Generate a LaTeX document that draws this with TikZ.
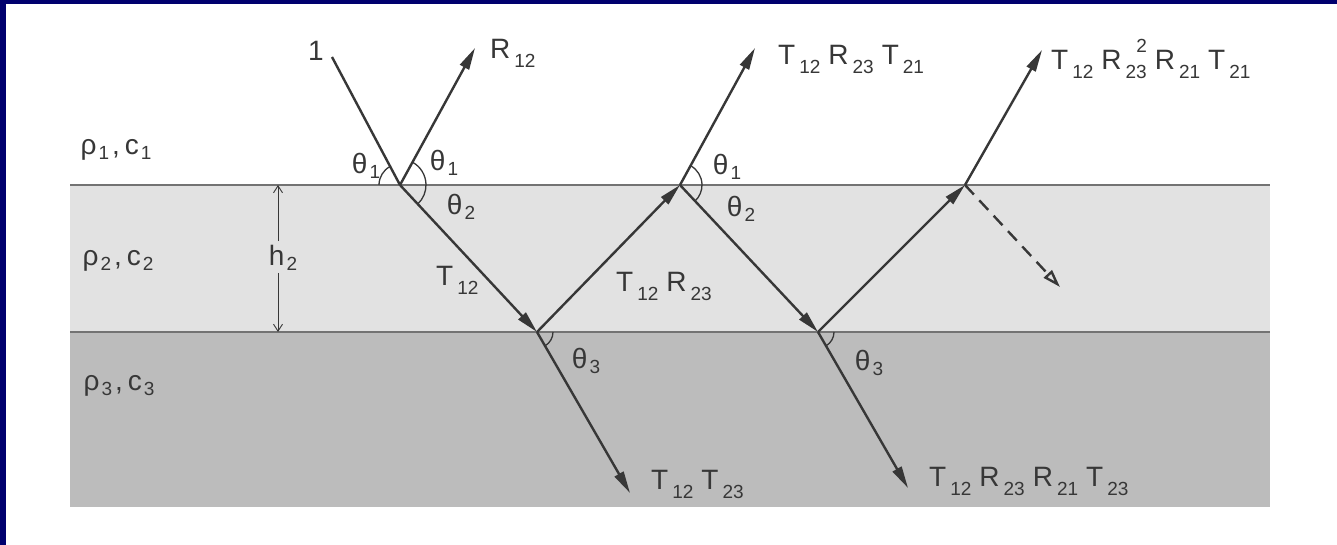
\documentclass[tikz,border=0pt]{standalone}
\usepackage{fontspec}
\setmainfont{Liberation Sans}
\usetikzlibrary{arrows.meta}
\definecolor{navy}{RGB}{0,0,110}
\definecolor{ink}{RGB}{55,55,55}
\definecolor{layertwo}{RGB}{226,226,226}
\definecolor{layerthree}{RGB}{188,188,188}
% subscript on a capital letter
\newcommand\sbs[1]{\kern4pt\raisebox{-9pt}{\fontsize{19pt}{19pt}\selectfont #1}}
% subscript on a small letter
\newcommand\sbl[1]{\kern2pt\raisebox{-5pt}{\fontsize{19pt}{19pt}\selectfont #1}}
\newcommand\gap{\hspace{8pt}}
\begin{document}
\begin{tikzpicture}[x=1pt,y=1pt,
  ray/.style={draw=ink, line width=2.4pt},
  rayarrow/.style={ray, -{Triangle[length=22pt,width=10pt]}},
  lab/.style={text=ink, font=\fontsize{28pt}{28pt}\selectfont, inner sep=0pt},
  ang/.style={draw=ink, line width=1.3pt},
  iface/.style={draw=black!55, line width=1.2pt},
  dim/.style={draw=ink, line width=0.9pt, -{Straight Barb[length=7pt,width=9pt]}}]
% background and frame
\useasboundingbox (0,0) rectangle (1337,-545);
\fill[white] (0,0) rectangle (1337,-545);
\fill[navy] (0,0) rectangle (1337,-4);
\fill[navy] (0,0) rectangle (6,-545);
% layers
\fill[layertwo] (70,-185) rectangle (1270,-332);
\fill[layerthree] (70,-332) rectangle (1270,-507);
\draw[iface] (70,-185) -- (1270,-185);
\draw[iface] (70,-332) -- (1270,-332);
% points
\coordinate (S) at (332,-57);
\coordinate (A) at (400,-185);
\coordinate (B) at (537,-332);
\coordinate (C) at (680,-185);
\coordinate (D) at (818,-332);
\coordinate (E) at (965,-185);
\coordinate (R1) at (475,-48);
\coordinate (R2) at (755,-48);
\coordinate (R3) at (1042,-50);
\coordinate (T1) at (630,-493);
\coordinate (T2) at (908,-488);
\coordinate (Q) at (1060,-287);
% rays
\draw[ray] (S) -- (A);
\draw[rayarrow] (A) -- (R1);
\draw[rayarrow] (A) -- (B);
\draw[rayarrow] (B) -- (T1);
\draw[rayarrow] (B) -- (C);
\draw[rayarrow] (C) -- (R2);
\draw[rayarrow] (C) -- (D);
\draw[rayarrow] (D) -- (T2);
\draw[rayarrow] (D) -- (E);
\draw[rayarrow] (E) -- (R3);
\draw[ray, dash pattern=on 13pt off 8pt, -{Triangle[open,length=18pt,width=11pt]}] (E) -- (Q);
% angle arcs
\draw[ang] ([shift={(180:21)}]A) arc[start angle=180, end angle=118, radius=21];
\draw[ang] ([shift={(61.6:26)}]A) arc[start angle=61.6, end angle=-47, radius=26];
\draw[ang] ([shift={(61.6:22)}]C) arc[start angle=61.6, end angle=-47, radius=22];
\draw[ang] ([shift={(0:16)}]B) arc[start angle=0, end angle=-60, radius=16];
\draw[ang] ([shift={(0:16)}]D) arc[start angle=0, end angle=-60, radius=16];
% thickness h2
\coordinate (Ht) at (278,-185);
\coordinate (Hb) at (278,-332);
\node[lab] (h2) at (283,-258) {h\sbl{2}};
\draw[dim] (h2.north -| Ht) ++(0,4) -- (Ht);
\draw[dim] (h2.south -| Hb) ++(0,-2) -- (Hb);
% medium labels
\node[lab] (m1) at (116,-150) {ρ\sbl{1}\kern3pt,\kern5pt c\sbl{1}};
\node[lab] (m2) at (118,-261) {ρ\sbl{2}\kern3pt,\kern5pt c\sbl{2}};
\node[lab] (m3) at (119,-386) {ρ\sbl{3}\kern3pt,\kern5pt c\sbl{3}};
% ray labels
\node[lab, anchor=base west] (l1) at (308,-61) {1};
\node[lab, anchor=base west] (lr12) at (490,-59) {R\sbs{12}};
\node[lab, anchor=base west] (lt12) at (436,-285) {T\sbs{12}};
\node[lab, anchor=base west] (ltr) at (616,-291) {T\sbs{12}\gap R\sbs{23}};
\node[lab, anchor=base west] (ltrt) at (778,-65) {T\sbs{12}\gap R\sbs{23}\gap T\sbs{21}};
\node[lab, anchor=base west] (lfar) at (1051,-70) {T\sbs{12}\gap R\sbs{23}\kern-10.5pt\raisebox{17pt}{\fontsize{19pt}{19pt}\selectfont 2}\kern0pt\gap R\sbs{21}\gap T\sbs{21}};
\node[lab, anchor=base west] (ltt) at (651,-489) {T\sbs{12}\gap T\sbs{23}};
\node[lab, anchor=base west] (ltrrt) at (929,-486) {T\sbs{12}\gap R\sbs{23}\gap R\sbs{21}\gap T\sbs{23}};
% angle labels
\node[lab] (a1) at (366,-166) {θ\sbl{1}};
\node[lab] (a2) at (444,-163) {θ\sbl{1}};
\node[lab] (a3) at (461,-207) {θ\sbl{2}};
\node[lab] (a4) at (727,-167) {θ\sbl{1}};
\node[lab] (a5) at (741,-209) {θ\sbl{2}};
\node[lab] (a6) at (586,-361) {θ\sbl{3}};
\node[lab] (a7) at (869,-363) {θ\sbl{3}};
\end{tikzpicture}
\end{document}
